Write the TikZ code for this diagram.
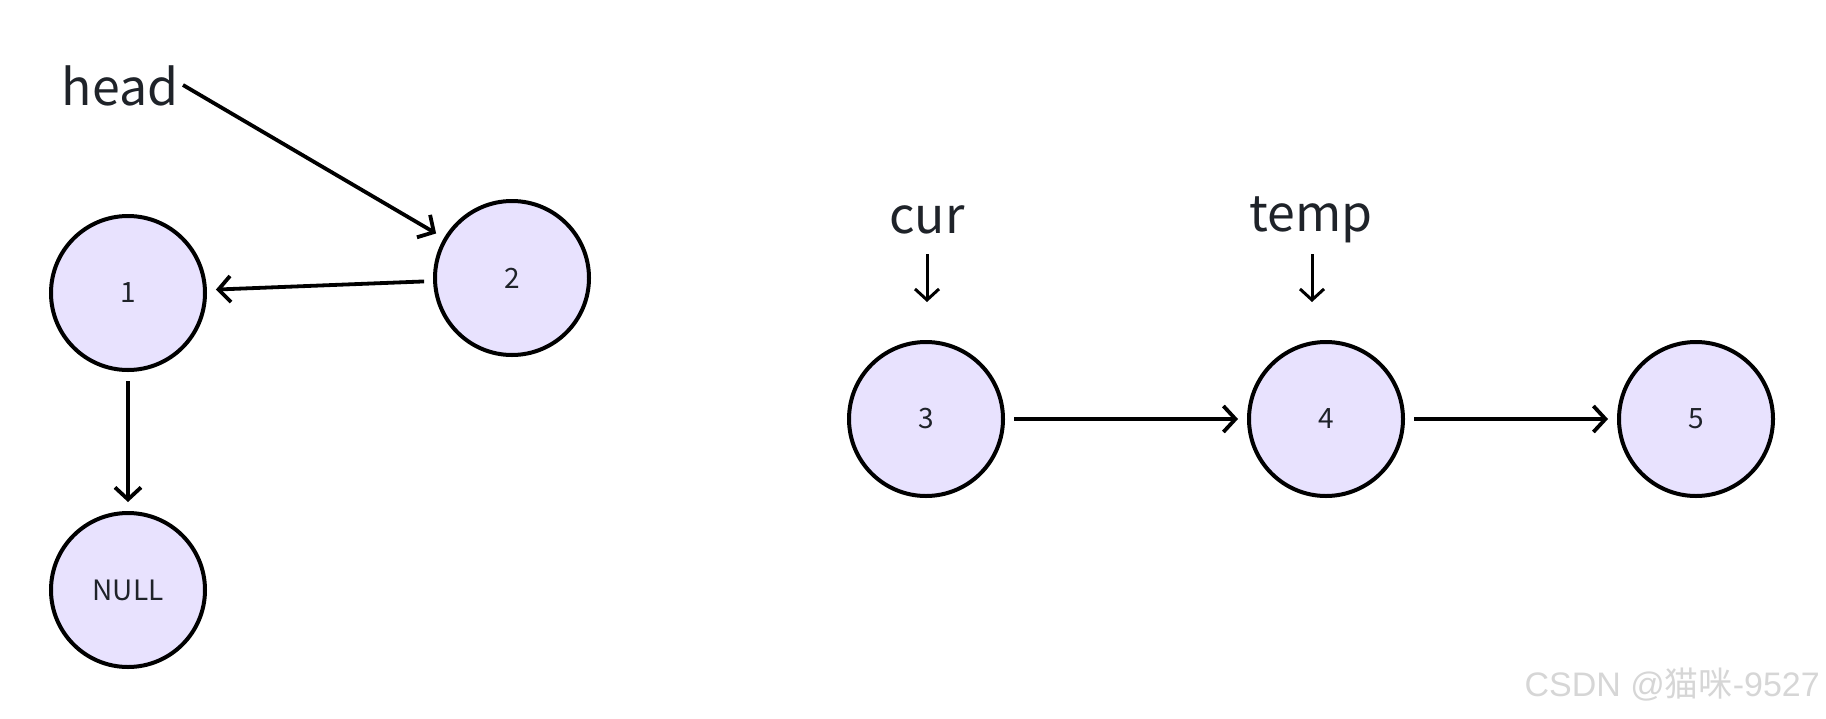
\documentclass[tikz,border=0pt]{standalone}
\usepackage{fontspec}
\setmainfont{Noto Sans CJK SC}
\newfontfamily\cjk{Noto Sans CJK SC}
\newfontfamily\wmfont{Liberation Sans}
\usetikzlibrary{arrows.meta}
\definecolor{nodefill}{HTML}{E8E2FE}
\definecolor{txt}{HTML}{1F2329}
\definecolor{wm}{HTML}{D6D6D6}
\tikzset{
  listnode/.style={circle, draw=black, line width=4pt, fill=nodefill, minimum size=154pt, inner sep=0pt, font=\fontsize{28}{32}\selectfont, text=txt},
  ptrlabel/.style={font=\fontsize{50}{58}\selectfont, text=txt, inner sep=0pt},
  link/.style={line width=3.8pt, -{Straight Barb[length=12pt,width=26pt,line width=3.8pt]}, shorten >=9pt, shorten <=9pt},
  ptrarrow/.style={line width=3pt, -{Straight Barb[length=11pt,width=24pt,line width=3pt]}}
}
\begin{document}
\begin{tikzpicture}[x=1pt,y=-1pt]
\useasboundingbox (0,0) rectangle (1826,718);
\node[listnode] (n1) at (128,293) {1};
\node[listnode] (n2) at (512,278) {2};
\node[listnode] (nnull) at (128,590) {NULL};
\node[listnode] (n3) at (926,419) {3};
\node[listnode] (n4) at (1326,419) {4};
\node[listnode] (n5) at (1696,419) {5};

\node[ptrlabel] (head) at (120,86) {head};
\node[ptrlabel] (cur) at (927,220) {cur};
\node[ptrlabel] (temp) at (1311,220) {temp};

\coordinate (hs) at (183,85);
\draw[link, shorten <=0pt] (hs) -- (n2);
\draw[link] (n2) -- (n1);
\draw[link] (n1) -- (nnull);
\draw[link] (n3) -- (n4);
\draw[link] (n4) -- (n5);

\coordinate (cs) at (927,254);
\coordinate (ce) at (927,302);
\coordinate (ts) at (1312,254);
\coordinate (te) at (1312,302);
\draw[ptrarrow] (cs) -- (ce);
\draw[ptrarrow] (ts) -- (te);

\node[anchor=east, font=\wmfont\fontsize{34}{40}\selectfont, text=wm, inner sep=0pt] (wmark) at (1820,685) {CSDN @{\cjk 猫咪}-9527};
\end{tikzpicture}
\end{document}
